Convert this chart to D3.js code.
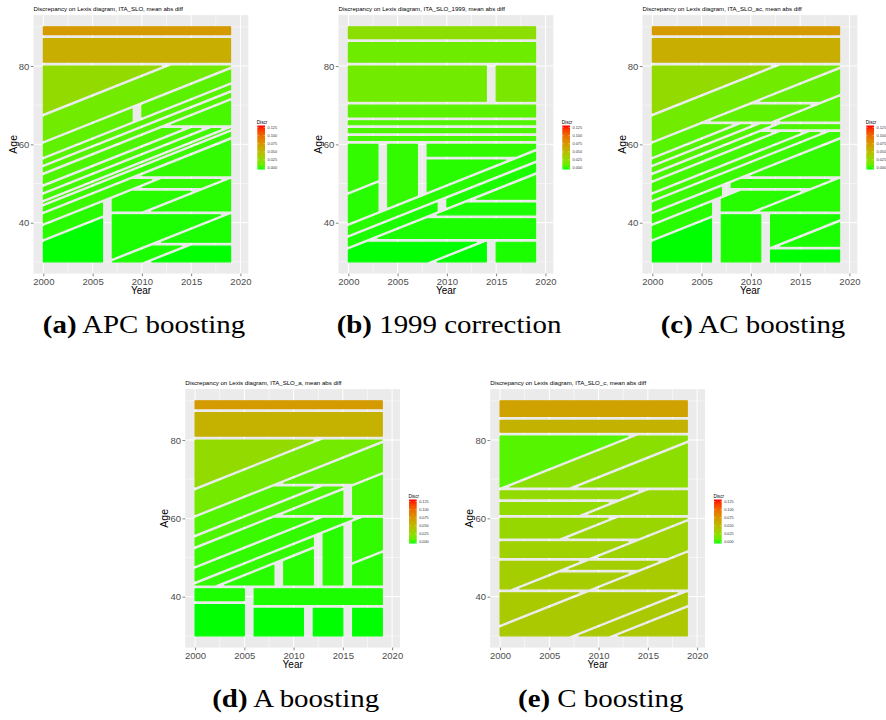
<!DOCTYPE html>
<html>
<head>
<script src="https://d3js.org/d3.v7.min.js"></script>
<style>
  body { margin: 0; background: #fff; }
  svg text { font-family: "Liberation Sans", Arial, sans-serif; }
  svg text.cap { font-family: "Liberation Serif", serif; }
</style>
</head>
<body>
<script>
// Lexis grid: years 2000-2019, ages 30-90
// each region: [year from, year to, age from, age to, cohort from, cohort to, discrepancy]
const N = null;
const xTicks = [2000, 2005, 2010, 2015, 2020];
const xMinor = [2002.5, 2007.5, 2012.5, 2017.5];
const yTicks = [40, 60, 80];
const yMinor = [30, 50, 70, 90];
const legendTicks = [0, 0.025, 0.05, 0.075, 0.1, 0.125];

const regionsA = [
  [2000, 2019, 88, 90, N, N, 0.074],
  [2000, 2019, 81, 87, N, N, 0.061],
  [2000, 2019, 30, 80, N, 1932, 0.029],
  [2000, 2019, 30, 80, 1933, 1939, 0.016],
  [2000, 2009, 30, 80, 1940, 1943, 0.011],
  [2010, 2019, 30, 80, 1940, 1943, 0.010],
  [2000, 2019, 30, 80, 1944, 1945, 0.009],
  [2000, 2019, 30, 80, 1946, 1947, 0.008],
  [2000, 2019, 65, 80, 1948, N, 0.006],
  [2000, 2019, 30, 64, 1948, 1950, 0.007],
  [2000, 2019, 30, 64, 1951, 1952, 0.006],
  [2000, 2019, 30, 64, 1953, 1954, 0.005],
  [2000, 2019, 30, 64, 1955, 1955, 0.005],
  [2000, 2019, 30, 64, 1956, 1957, 0.004],
  [2000, 2019, 52, 64, 1958, N, 0.003],
  [2000, 2019, 30, 51, 1958, 1960, 0.004],
  [2007, 2019, 49, 51, 1961, 1967, 0.003],
  [2007, 2019, 43, 48, 1961, 1967, 0.002],
  [2007, 2019, 43, 51, 1968, N, 0.002],
  [2000, 2006, 30, 64, 1961, 1964, 0.002],
  [2000, 2006, 30, 64, 1965, N, 0.000],
  [2007, 2019, 30, 42, N, 1976, 0.001],
  [2007, 2019, 35, 42, 1977, N, 0.001],
  [2007, 2019, 30, 34, 1977, 1980, 0.001],
  [2007, 2019, 30, 34, 1981, N, 0.000]
];

const regionsB = [
  [2000, 2019, 87, 90, N, N, 0.026],
  [2000, 2019, 81, 86, N, N, 0.015],
  [2000, 2014, 71, 80, N, N, 0.016],
  [2015, 2019, 71, 80, N, N, 0.019],
  [2000, 2019, 67, 70, N, N, 0.010],
  [2000, 2019, 65, 66, N, N, 0.008],
  [2000, 2019, 63, 64, N, N, 0.007],
  [2000, 2019, 61, 62, N, N, 0.006],
  [2000, 2003, 30, 60, N, 1952, 0.003],
  [2000, 2003, 30, 60, 1953, 1960, 0.002],
  [2004, 2007, 30, 60, N, 1960, 0.003],
  [2008, 2019, 57, 60, N, 1960, 0.003],
  [2008, 2019, 30, 56, N, 1960, 0.002],
  [2000, 2019, 30, 60, 1961, 1963, 0.002],
  [2000, 2009, 30, 60, 1964, 1966, 0.001],
  [2010, 2019, 30, 60, 1964, 1966, 0.001],
  [2000, 2019, 46, 60, 1967, N, 0.002],
  [2000, 2019, 42, 45, 1967, N, 0.001],
  [2000, 2019, 36, 41, 1967, N, 0.001],
  [2000, 2014, 30, 35, 1967, 1978, 0.000],
  [2000, 2014, 30, 35, 1979, N, 0.000],
  [2015, 2019, 30, 35, 1967, N, 0.001]
];

const regionsC = [
  [2000, 2019, 88, 90, N, N, 0.074],
  [2000, 2019, 81, 87, N, N, 0.061],
  [2000, 2019, 30, 80, N, 1932, 0.029],
  [2000, 2019, 30, 80, 1933, 1939, 0.016],
  [2000, 2019, 71, 80, 1940, 1946, 0.012],
  [2000, 2019, 66, 70, 1940, 1946, 0.011],
  [2000, 2019, 66, 80, 1947, N, 0.009],
  [2000, 2019, 30, 65, 1940, 1943, 0.009],
  [2000, 2019, 30, 65, 1944, 1945, 0.008],
  [2000, 2019, 30, 65, 1946, 1947, 0.008],
  [2000, 2019, 64, 65, 1948, N, 0.007],
  [2000, 2019, 30, 63, 1948, 1949, 0.006],
  [2000, 2019, 30, 63, 1950, 1952, 0.005],
  [2000, 2019, 30, 63, 1953, 1954, 0.005],
  [2000, 2019, 30, 63, 1955, 1957, 0.004],
  [2000, 2007, 30, 51, 1958, 1960, 0.003],
  [2008, 2019, 52, 63, 1958, N, 0.003],
  [2008, 2019, 49, 51, 1958, 1967, 0.003],
  [2007, 2019, 43, 48, 1961, 1967, 0.002],
  [2007, 2019, 43, 51, 1968, N, 0.002],
  [2000, 2006, 30, 63, 1961, 1964, 0.002],
  [2000, 2006, 30, 63, 1965, N, 0.000],
  [2007, 2011, 30, 42, N, N, 0.001],
  [2012, 2019, 34, 42, N, 1978, 0.001],
  [2012, 2019, 34, 42, 1979, N, 0.001],
  [2012, 2019, 30, 33, N, N, 0.000]
];

const regionsD = [
  [2000, 2019, 88, 90, N, N, 0.073],
  [2000, 2019, 81, 87, N, N, 0.059],
  [2000, 2019, 30, 80, N, 1932, 0.029],
  [2000, 2019, 30, 80, 1933, 1939, 0.017],
  [2000, 2019, 69, 80, 1940, 1947, 0.011],
  [2000, 2019, 30, 68, 1940, 1944, 0.008],
  [2000, 2019, 30, 68, 1945, 1947, 0.007],
  [2016, 2019, 61, 80, 1948, N, 0.006],
  [2000, 2015, 61, 68, 1948, N, 0.005],
  [2000, 2019, 43, 60, 1948, 1952, 0.004],
  [2000, 2019, 43, 60, 1953, 1956, 0.003],
  [2000, 2012, 43, 60, 1957, 1959, 0.003],
  [2000, 2008, 43, 60, 1960, N, 0.002],
  [2009, 2012, 43, 60, 1960, N, 0.002],
  [2013, 2015, 43, 60, 1957, N, 0.002],
  [2016, 2019, 43, 60, 1957, 1967, 0.003],
  [2016, 2019, 43, 60, 1968, N, 0.002],
  [2000, 2005, 39, 42, N, N, 0.001],
  [2000, 2005, 30, 38, N, N, 0.000],
  [2006, 2019, 38, 42, N, N, 0.001],
  [2006, 2011, 30, 37, N, N, 0.000],
  [2012, 2015, 30, 37, N, N, 0.000],
  [2016, 2019, 30, 37, N, N, 0.000]
];

const regionsE = [
  [2000, 2019, 86, 90, N, N, 0.069],
  [2000, 2019, 82, 85, N, N, 0.058],
  [2000, 2019, 68, 81, N, 1932, 0.009],
  [2000, 2019, 68, 81, 1933, 1939, 0.025],
  [2000, 2019, 68, 81, 1940, N, 0.026],
  [2000, 2019, 65, 67, N, 1947, 0.029],
  [2000, 2019, 61, 64, N, 1947, 0.028],
  [2000, 2019, 61, 67, 1948, N, 0.030],
  [2000, 2019, 55, 60, N, 1951, 0.031],
  [2000, 2019, 55, 60, 1952, 1959, 0.032],
  [2000, 2019, 50, 54, N, 1959, 0.035],
  [2000, 2019, 50, 60, 1960, 1967, 0.034],
  [2000, 2019, 47, 49, 1960, 1967, 0.037],
  [2000, 2019, 42, 49, N, 1959, 0.038],
  [2000, 2019, 42, 46, 1960, 1967, 0.039],
  [2000, 2019, 42, 60, 1968, N, 0.040],
  [2000, 2019, 30, 41, N, 1967, 0.041],
  [2000, 2019, 30, 41, 1968, 1977, 0.042],
  [2000, 2019, 30, 41, 1978, 1981, 0.042],
  [2000, 2019, 30, 41, 1982, N, 0.043]
];

const panels = [
  {dx: 0, dy: 0, name: "ITA_SLO", tag: "(a)", label: "APC boosting", regions: regionsA},
  {dx: 305, dy: 0, name: "ITA_SLO_1999", tag: "(b)", label: "1999 correction", regions: regionsB},
  {dx: 609, dy: 0, name: "ITA_SLO_ac", tag: "(c)", label: "AC boosting", regions: regionsC},
  {dx: 151.7, dy: 374, name: "ITA_SLO_a", tag: "(d)", label: "A boosting", regions: regionsD},
  {dx: 456.7, dy: 374, name: "ITA_SLO_c", tag: "(e)", label: "C boosting", regions: regionsE}
];

const color = d3.scaleLinear().domain([0, 0.125])
  .range(["#00ff00", "#ff0000"]).interpolate(d3.interpolateLab).clamp(true);

const svg = d3.select("body").append("svg").attr("width", 886).attr("height", 720);

// gradient for the colour bars
const grad = svg.append("defs").append("linearGradient")
  .attr("id", "discr").attr("x1", 0).attr("y1", 1).attr("x2", 0).attr("y2", 0);
d3.range(11).forEach(i => grad.append("stop")
  .attr("offset", i / 10).attr("stop-color", color(0.13 * i / 10)));

// keep the half-plane f(p) >= 0 of a polygon
function clip(poly, f) {
  const out = [];
  poly.forEach((p, i) => {
    const q = poly[(i + 1) % poly.length];
    const fp = f(p), fq = f(q);
    if (fp >= 0) out.push(p);
    if ((fp >= 0) !== (fq >= 0)) {
      const t = fp / (fp - fq);
      out.push([p[0] + t * (q[0] - p[0]), p[1] + t * (q[1] - p[1])]);
    }
  });
  return out;
}

function shape(r) {
  const [y0, y1, a0, a1, c0, c1] = r;
  let poly = [[y0, a0], [y1, a0], [y1, a1], [y0, a1]];
  if (c0 != null) poly = clip(poly, p => p[0] - p[1] - c0);
  if (c1 != null) poly = clip(poly, p => c1 - (p[0] - p[1]));
  return poly;
}

function drawPanel(p) {
  const g = svg.append("g").attr("transform", `translate(${p.dx},${p.dy})`);
  const x = d3.scaleLinear().domain([1999, 2020.8]).range([33.5, 248.3]);
  const y = d3.scaleLinear().domain([27, 93]).range([273.6, 15.1]);

  g.append("rect").attr("x", x(1999)).attr("y", y(93))
    .attr("width", x(2020.8) - x(1999)).attr("height", y(27) - y(93))
    .attr("fill", "#ebebeb");

  g.selectAll(".vmin").data(xMinor).join("line")
    .attr("x1", d => x(d)).attr("x2", d => x(d)).attr("y1", y(93)).attr("y2", y(27))
    .attr("stroke", "#fff").attr("stroke-width", 0.5);
  g.selectAll(".hmin").data(yMinor).join("line")
    .attr("y1", d => y(d)).attr("y2", d => y(d)).attr("x1", x(1999)).attr("x2", x(2020.8))
    .attr("stroke", "#fff").attr("stroke-width", 0.5);
  g.selectAll(".vmaj").data(xTicks).join("line")
    .attr("x1", d => x(d)).attr("x2", d => x(d)).attr("y1", y(93)).attr("y2", y(27))
    .attr("stroke", "#fff").attr("stroke-width", 1);
  g.selectAll(".hmaj").data(yTicks).join("line")
    .attr("y1", d => y(d)).attr("y2", d => y(d)).attr("x1", x(1999)).attr("x2", x(2020.8))
    .attr("stroke", "#fff").attr("stroke-width", 1);

  const line = d3.line().x(d => x(d[0])).y(d => y(d[1]));
  g.selectAll(".cell").data(p.regions).join("path")
    .attr("d", d => line(shape(d)) + "Z")
    .attr("fill", d => color(d[6]))
    .attr("stroke", d => color(d[6]))
    .attr("stroke-width", 1.2)
    .attr("stroke-linejoin", "round");

  const ax = g.append("g").attr("transform", `translate(0,${y(27)})`)
    .call(d3.axisBottom(x).tickValues(xTicks).tickFormat(d3.format("d")).tickSize(2.7).tickPadding(1.5));
  const ay = g.append("g").attr("transform", `translate(${x(1999)},0)`)
    .call(d3.axisLeft(y).tickValues(yTicks).tickSize(2.7).tickPadding(1.5));
  [ax, ay].forEach(a => {
    a.select(".domain").remove();
    a.selectAll(".tick line").attr("stroke", "#333").attr("stroke-width", 0.6);
    a.selectAll(".tick text").attr("fill", "#4d4d4d").attr("font-size", 9.5)
      .attr("font-family", "Liberation Sans, Arial, sans-serif");
  });

  g.append("text").attr("x", 141).attr("y", 294).attr("text-anchor", "middle")
    .attr("font-size", 10).text("Year");
  g.append("text").attr("transform", "translate(16.5,144.3) rotate(-90)")
    .attr("text-anchor", "middle").attr("font-size", 10.5).text("Age");
  g.append("text").attr("x", 33.5).attr("y", 11).attr("font-size", 6.1)
    .text(`Discrepancy on Lexis diagram, ${p.name}, mean abs diff`);

  // legend
  const ly = d3.scaleLinear().domain([0, 0.125]).range([168, 127.6]);
  g.append("text").attr("x", 256.8).attr("y", 124.2).attr("font-size", 4.6).text("Discr");
  g.append("rect").attr("x", 257.3).attr("y", 125.5).attr("width", 7.7).attr("height", 44)
    .attr("fill", "url(#discr)");
  g.selectAll(".lt").data(legendTicks).join("line")
    .attr("x1", 257.3).attr("x2", 258.8).attr("y1", d => ly(d)).attr("y2", d => ly(d))
    .attr("stroke", "#fff").attr("stroke-width", 0.4);
  g.selectAll(".lt2").data(legendTicks).join("line")
    .attr("x1", 263.5).attr("x2", 265).attr("y1", d => ly(d)).attr("y2", d => ly(d))
    .attr("stroke", "#fff").attr("stroke-width", 0.4);
  g.selectAll(".ll").data(legendTicks).join("text")
    .attr("x", 267.5).attr("y", d => ly(d) + 1.3).attr("font-size", 3.8).attr("fill", "#333")
    .text(d => d3.format(".3f")(d));

  // sub-figure caption
  const cap = g.append("text").attr("class", "cap")
    .attr("transform", "translate(144,333) scale(1.18,1)")
    .attr("text-anchor", "middle").attr("font-size", 24.5);
  cap.append("tspan").attr("font-weight", "bold").text(p.tag);
  cap.append("tspan").text(" " + p.label);
}

panels.forEach(drawPanel);
</script>
</body>
</html>
